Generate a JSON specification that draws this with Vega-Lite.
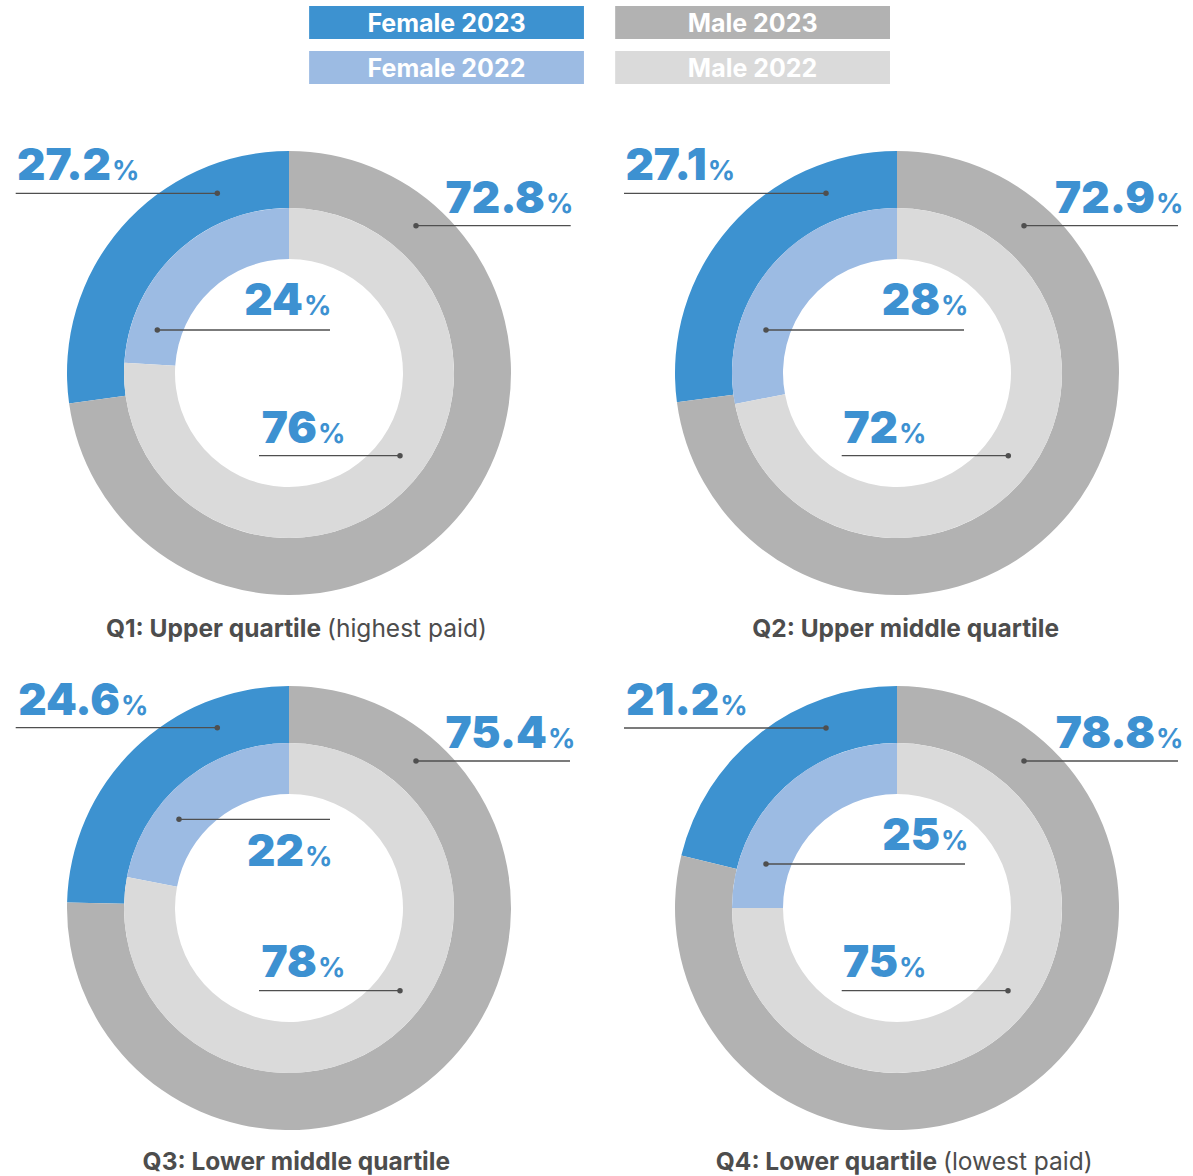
{
  "$schema": "https://vega.github.io/schema/vega-lite/v6.json",
  "padding": 0,
  "bounds": "flush",
  "spacing": 19,
  "config": {
    "view": {"stroke": null},
    "font": "Inter",
    "header": {"labels": false, "labelFontSize": 0, "labelExpr": "''", "labelPadding": 0, "titleFontSize": 0, "titlePadding": 0},
    "headerFacet": {"labels": false, "labelFontSize": 0, "labelExpr": "''", "labelPadding": 0, "titleFontSize": 0, "titlePadding": 0}
  },
  "data": {
    "values": [
      {"quartile": "Q1", "series": "Female 2023", "sex": "Female", "year": 2023, "value": 27.2, "titleBold": "Q1: Upper quartile", "titleRest": "(highest paid)"},
      {"quartile": "Q1", "series": "Male 2023", "sex": "Male", "year": 2023, "value": 72.8, "titleBold": "Q1: Upper quartile", "titleRest": "(highest paid)"},
      {"quartile": "Q1", "series": "Female 2022", "sex": "Female", "year": 2022, "value": 24, "titleBold": "Q1: Upper quartile", "titleRest": "(highest paid)"},
      {"quartile": "Q1", "series": "Male 2022", "sex": "Male", "year": 2022, "value": 76, "titleBold": "Q1: Upper quartile", "titleRest": "(highest paid)"},
      {"quartile": "Q2", "series": "Female 2023", "sex": "Female", "year": 2023, "value": 27.1, "titleBold": "Q2: Upper middle quartile", "titleRest": ""},
      {"quartile": "Q2", "series": "Male 2023", "sex": "Male", "year": 2023, "value": 72.9, "titleBold": "Q2: Upper middle quartile", "titleRest": ""},
      {"quartile": "Q2", "series": "Female 2022", "sex": "Female", "year": 2022, "value": 28, "titleBold": "Q2: Upper middle quartile", "titleRest": ""},
      {"quartile": "Q2", "series": "Male 2022", "sex": "Male", "year": 2022, "value": 72, "titleBold": "Q2: Upper middle quartile", "titleRest": ""},
      {"quartile": "Q3", "series": "Female 2023", "sex": "Female", "year": 2023, "value": 24.6, "titleBold": "Q3: Lower middle quartile", "titleRest": ""},
      {"quartile": "Q3", "series": "Male 2023", "sex": "Male", "year": 2023, "value": 75.4, "titleBold": "Q3: Lower middle quartile", "titleRest": ""},
      {"quartile": "Q3", "series": "Female 2022", "sex": "Female", "year": 2022, "value": 22, "titleBold": "Q3: Lower middle quartile", "titleRest": ""},
      {"quartile": "Q3", "series": "Male 2022", "sex": "Male", "year": 2022, "value": 78, "titleBold": "Q3: Lower middle quartile", "titleRest": ""},
      {"quartile": "Q4", "series": "Female 2023", "sex": "Female", "year": 2023, "value": 21.2, "titleBold": "Q4: Lower quartile", "titleRest": "(lowest paid)"},
      {"quartile": "Q4", "series": "Male 2023", "sex": "Male", "year": 2023, "value": 78.8, "titleBold": "Q4: Lower quartile", "titleRest": "(lowest paid)"},
      {"quartile": "Q4", "series": "Female 2022", "sex": "Female", "year": 2022, "value": 25, "titleBold": "Q4: Lower quartile", "titleRest": "(lowest paid)"},
      {"quartile": "Q4", "series": "Male 2022", "sex": "Male", "year": 2022, "value": 75, "titleBold": "Q4: Lower quartile", "titleRest": "(lowest paid)"}
    ]
  },
  "vconcat": [
    {
      "width": 1193,
      "height": 90,
      "transform": [{"filter": "datum.quartile == 'Q1'"}],
      "encoding": {
        "x": {"field": "sex", "type": "nominal", "sort": ["Female", "Male"], "scale": {"paddingInner": 0.102, "paddingOuter": 1.013, "align": 0.505}, "axis": null},
        "y": {"field": "year", "type": "ordinal", "sort": "descending", "scale": {"paddingInner": 0.267, "paddingOuter": 0.133}, "axis": null}
      },
      "layer": [
        {
          "mark": {"type": "rect"},
          "encoding": {
            "color": {"field": "series", "type": "nominal", "scale": {"domain": ["Female 2023", "Male 2023", "Female 2022", "Male 2022"], "range": ["#3d92d0", "#b2b2b2", "#9cbbe3", "#dadada"]}, "legend": null}
          }
        },
        {
          "mark": {"type": "text", "color": "#ffffff", "font": "Inter", "fontWeight": "bold", "fontSize": 25, "baseline": "middle", "align": "center", "dy": 1.5},
          "encoding": {"text": {"field": "series", "type": "nominal"}}
        }
      ]
    },
    {
      "transform": [
        {"calculate": "indexof(['Q1','Q2','Q3','Q4'], datum.quartile)", "as": "qi"},
        {"calculate": "indexof(['Female 2023','Male 2023','Female 2022','Male 2022'], datum.series)", "as": "si"},
        {"calculate": "datum.qi*4+datum.si", "as": "kA"},
        {"calculate": "datum.kA+16", "as": "kB"},
        {"calculate": "(datum.si==0||datum.si==3)?datum.kB:datum.kA", "as": "kD"},
        {"calculate": "datum.kA+32", "as": "kS"},
        {"calculate": "datum.qi+48", "as": "kT"},
        {"calculate": "datum.qi+32", "as": "kY"}
      ],
      "facet": {"field": "quartile", "type": "nominal", "header": {"labels": false, "labelFontSize": 0, "labelExpr": "''", "title": null, "labelPadding": 0, "titlePadding": 0}},
      "columns": 2,
      "spacing": {"row": 7, "column": 30},
      "bounds": "flush",
      "spec": {
        "width": 578,
        "height": 528,
        "layer": [
          {
            "transform": [{"filter": "datum.si < 2"}],
            "mark": {"type": "arc", "radius": 222, "radius2": 165},
            "encoding": {
              "theta": {"field": "value", "type": "quantitative", "stack": true},
              "order": {"field": "si", "type": "quantitative", "sort": "descending"},
              "color": {"field": "series", "type": "nominal", "scale": {"domain": ["Female 2023", "Male 2023", "Female 2022", "Male 2022"], "range": ["#3d92d0", "#b2b2b2", "#9cbbe3", "#dadada"]}, "legend": null}
            }
          },
          {
            "transform": [{"filter": "datum.si >= 2"}],
            "mark": {"type": "arc", "radius": 165, "radius2": 114},
            "encoding": {
              "theta": {"field": "value", "type": "quantitative", "stack": true},
              "order": {"field": "si", "type": "quantitative", "sort": "descending"},
              "color": {"field": "series", "type": "nominal", "legend": null}
            }
          },
          {
            "mark": {"type": "rule", "color": "#4f4f4f", "strokeWidth": 1.3},
            "encoding": {
              "x": {"field": "kA", "type": "quantitative", "axis": null, "scale": {"zero": false, "nice": false, "domain": [0,1,2,3,4,5,6,7,8,9,10,11,12,13,14,15,16,17,18,19,20,21,22,23,24,25,26,27,28,29,30,31,32,33,34,35,36,37,38,39,40,41,42,43,44,45,46,47,48,49,50,51], "range": [15.7,416,157.3,259,16,416,158,233.7,15.7,416,179,259,16,416,158,233.7,217.3,570.7,330,400,218,570,356,400.3,217.3,570,330,400,218,570,357,400,111,545,303,317,98.7,547,332,290,120,547,304,317,111.3,547,332,290,321,451,450,329]}},
              "x2": {"field": "kB"},
              "y": {"field": "kA", "type": "quantitative", "axis": null, "scale": {"zero": false, "nice": false, "domain": [0,1,2,3,4,5,6,7,8,9,10,11,12,13,14,15,16,17,18,19,20,21,22,23,24,25,26,27,28,29,30,31,32,33,34,35], "range": [84.3,116.7,221,346.7,84.3,116.7,221,346.7,83.7,117,175.3,346.7,84,117,220,346.7,70.5,103.5,206,334,70.5,103.5,206,334,70.5,103.5,222,333,70.5,103.5,206,333,528,528,526,526]}}
            }
          },
          {
            "mark": {"type": "point", "filled": true, "color": "#4f4f4f", "size": 30, "opacity": 1},
            "encoding": {
              "x": {"field": "kD", "type": "quantitative", "axis": null},
              "y": {"field": "kA", "type": "quantitative", "axis": null}
            }
          },
          {
            "mark": {"type": "text", "align": "right", "baseline": "alphabetic", "font": "Inter", "fontWeight": 900, "fontSize": 44, "color": "#3d91d1"},
            "encoding": {
              "x": {"field": "kS", "type": "quantitative", "axis": null},
              "y": {"field": "kB", "type": "quantitative", "axis": null},
              "text": {"field": "value", "type": "nominal"}
            }
          },
          {
            "mark": {"type": "text", "align": "left", "baseline": "alphabetic", "font": "Inter", "fontWeight": 700, "fontSize": 27, "color": "#3d91d1", "dx": 1},
            "encoding": {
              "x": {"field": "kS", "type": "quantitative", "axis": null},
              "y": {"field": "kB", "type": "quantitative", "axis": null},
              "text": {"value": "%"}
            }
          },
          {
            "transform": [{"filter": "datum.si == 0"}],
            "mark": {"type": "text", "align": "right", "baseline": "alphabetic", "font": "Inter", "fontWeight": "bold", "fontSize": 24.5, "color": "#4d4d4d"},
            "encoding": {
              "x": {"field": "kT", "type": "quantitative", "axis": null},
              "y": {"field": "kY", "type": "quantitative", "axis": null},
              "text": {"field": "titleBold", "type": "nominal"}
            }
          },
          {
            "transform": [{"filter": "datum.si == 0"}],
            "mark": {"type": "text", "align": "left", "baseline": "alphabetic", "font": "Inter", "fontWeight": "normal", "fontSize": 24.5, "color": "#4d4d4d", "dx": 6},
            "encoding": {
              "x": {"field": "kT", "type": "quantitative", "axis": null},
              "y": {"field": "kY", "type": "quantitative", "axis": null},
              "text": {"field": "titleRest", "type": "nominal"}
            }
          }
        ]
      }
    }
  ]
}
